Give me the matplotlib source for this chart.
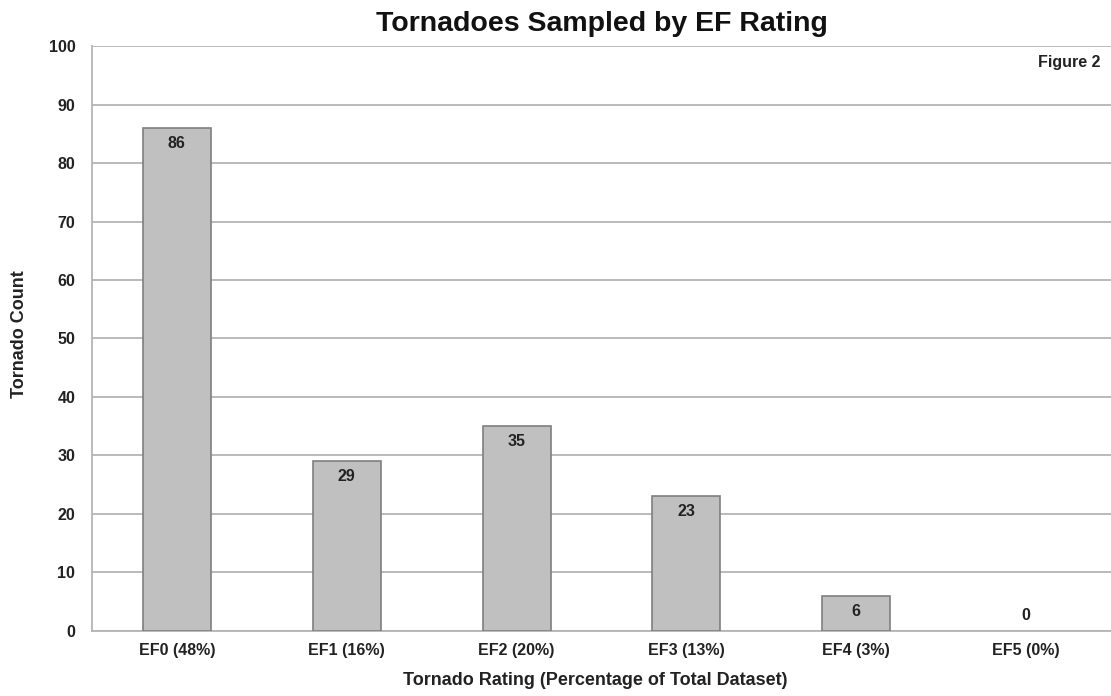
import matplotlib.pyplot as plt
import numpy as np

plt.rcParams['font.family'] = ['Liberation Sans', 'DejaVu Sans']
plt.rcParams['font.weight'] = 'bold'

ratings = ['EF0', 'EF1', 'EF2', 'EF3', 'EF4', 'EF5']
percents = [48, 16, 20, 13, 3, 0]
counts = [86, 29, 35, 23, 6, 0]

labels = [f"{r} ({p}%)" for r, p in zip(ratings, percents)]
x = np.arange(len(ratings))

fig = plt.figure(figsize=(11.11, 6.96), dpi=100)
ax = fig.add_axes([0.0828, 0.0934, 0.9172, 0.8405])

edges = ['#7f7f7f' if c > 0 else 'none' for c in counts]
ax.bar(x, counts, width=0.4, color='#c0c0c0', edgecolor=edges,
       linewidth=1.2, zorder=3)

# подписи значений у вершины столбца
for xi, c in zip(x, counts):
    y = c - 2.6 if c >= 5 else c + 2.6
    ax.text(xi, y, str(c), ha='center', va='center',
            fontsize=11.5, fontweight='bold', color='#222222', zorder=4)

ax.set_xlim(-0.5, 5.5)
ax.set_ylim(0, 100)
ax.set_yticks(np.arange(0, 101, 10))
ax.set_xticks(x)
ax.set_xticklabels(labels)
ax.tick_params(axis='both', length=0, labelsize=11.5, colors='#222222')
ax.tick_params(axis='x', pad=9)
ax.tick_params(axis='y', pad=12)

ax.grid(axis='y', color='#b4b4b4', linewidth=1.3, zorder=0)
for s in ['top', 'right']:
    ax.spines[s].set_visible(False)
ax.spines['left'].set_color('#b4b4b4')
ax.spines['bottom'].set_color('#b4b4b4')
ax.spines['left'].set_linewidth(1.3)
ax.spines['bottom'].set_linewidth(1.3)

ax.text(0.99, 0.972, 'Figure 2', transform=ax.transAxes, ha='right',
        va='center', fontsize=11.5, fontweight='bold', color='#222222')

fig.text(0.542, 0.966, 'Tornadoes Sampled by EF Rating', ha='center',
         va='center', fontsize=20.5, fontweight='bold', color='#111111')
fig.text(0.536, 0.022, 'Tornado Rating (Percentage of Total Dataset)',
         ha='center', va='center', fontsize=13, fontweight='bold',
         color='#222222')
fig.text(0.018, 0.52, 'Tornado Count', ha='center', va='center',
         rotation=90, fontsize=13, fontweight='bold', color='#222222')

plt.savefig('out.png', dpi=100)
